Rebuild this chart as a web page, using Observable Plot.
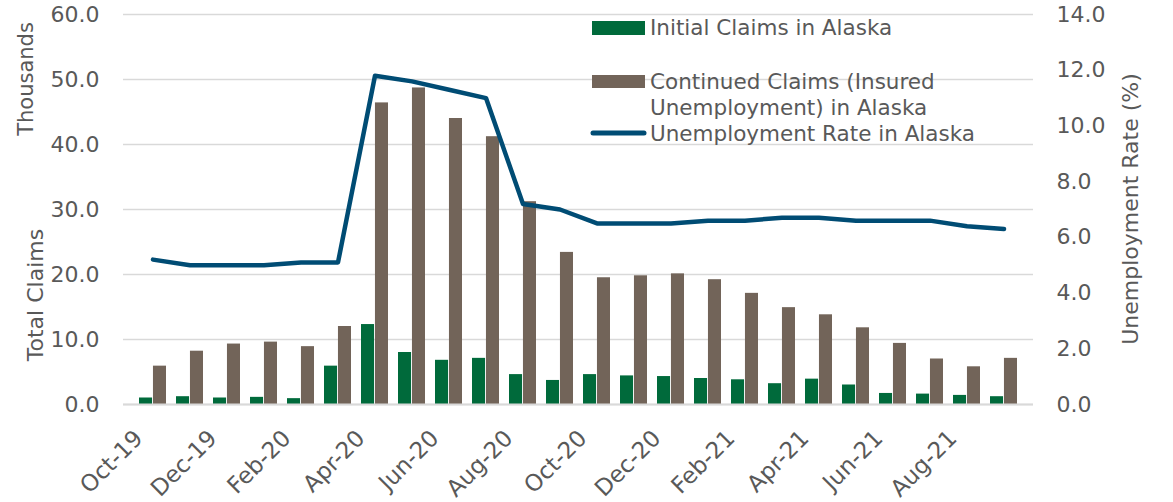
<!DOCTYPE html>
<html>
<head>
<meta charset="utf-8">
<script src="https://cdn.jsdelivr.net/npm/d3@7"></script>
<script src="https://cdn.jsdelivr.net/npm/@observablehq/plot@0.6"></script>
<style>
  html, body { margin: 0; padding: 0; background: #fff; }
  #chart svg { display: block; }
</style>
</head>
<body>
<div id="chart"></div>
<script>
const months = ["Oct-19","Nov-19","Dec-19","Jan-20","Feb-20","Mar-20","Apr-20","May-20","Jun-20","Jul-20","Aug-20","Sep-20",
                "Oct-20","Nov-20","Dec-20","Jan-21","Feb-21","Mar-21","Apr-21","May-21","Jun-21","Jul-21","Aug-21","Sep-21"];
const initialClaims   = [1.0, 1.2, 1.0, 1.1, 0.9, 5.9, 12.3, 8.0, 6.8, 7.1, 4.6, 3.7, 4.6, 4.4, 4.3, 4.0, 3.8, 3.2, 3.9, 3.0, 1.7, 1.6, 1.4, 1.2];
const continuedClaims = [5.9, 8.2, 9.3, 9.6, 8.9, 12.0, 46.4, 48.7, 44.0, 41.2, 31.2, 23.4, 19.5, 19.8, 20.1, 19.2, 17.1, 14.9, 13.8, 11.8, 9.4, 7.0, 5.8, 7.1];
const unemploymentRate = [5.2, 5.0, 5.0, 5.0, 5.1, 5.1, 11.8, 11.6, 11.3, 11.0, 7.2, 7.0, 6.5, 6.5, 6.5, 6.6, 6.6, 6.7, 6.7, 6.6, 6.6, 6.6, 6.4, 6.3];
const leftTicks = [0, 10, 20, 30, 40, 50, 60];
const rightTicks = [0, 2, 4, 6, 8, 10, 12, 14];
const xTickLabels = months.filter((d, i) => i % 2 === 0);
const seriesNames = ["Initial Claims in Alaska", "Continued Claims (Insured Unemployment) in Alaska", "Unemployment Rate in Alaska"];

const data = months.map((m, i) => ({month: m, initial: initialClaims[i], continued: continuedClaims[i], rate: unemploymentRate[i]}));

const W = 1173, H = 502;
const mL = 123, mR = 140, mT = 14, mB = 98;
const bw = (W - mL - mR) / months.length;
const gap = 5;
const barW = (bw - 2 * gap) / 2;
const leftMax = 60, rightMax = 14;
const toLeft = r => r * leftMax / rightMax;

const green = "#006a3b", brown = "#726459", blue = "#004c74", grid = "#d9d9d9", textColor = "#595959";

const chart = Plot.plot({
  width: W, height: H,
  marginTop: mT, marginBottom: mB, marginLeft: mL, marginRight: mR,
  style: {fontFamily: "'DejaVu Sans', Verdana, sans-serif", fontSize: "22px", color: textColor, background: "#fff"},
  x: {type: "band", domain: months, padding: 0},
  y: {domain: [0, leftMax]},
  marks: [
    Plot.gridY(leftTicks, {stroke: grid, strokeOpacity: 1, strokeWidth: 1.5}),
    Plot.barY(data, {x: "month", y: "initial", fill: green, insetLeft: gap, insetRight: gap + barW}),
    Plot.barY(data, {x: "month", y: "continued", fill: brown, insetLeft: gap + barW, insetRight: gap}),
    Plot.ruleY([0], {stroke: grid, strokeWidth: 2}),
    Plot.line(data, {x: "month", y: d => toLeft(d.rate), stroke: blue, strokeWidth: 4.5, strokeLinejoin: "round", strokeLinecap: "round"}),
    Plot.axisY(leftTicks, {anchor: "left", tickSize: 0, tickPadding: 24, fontSize: 22, tickFormat: d => d.toFixed(1), label: null, fill: textColor}),
    Plot.axisY(rightTicks.map(toLeft), {anchor: "right", tickSize: 0, tickPadding: 23, fontSize: 22, tickFormat: d => (d * rightMax / leftMax).toFixed(1), label: null, fill: textColor}),
    Plot.axisX(xTickLabels, {anchor: "bottom", tickSize: 0, tickPadding: 16, tickRotate: -45, fontSize: 23, dx: -14, dy: 14, label: null, fill: textColor})
  ]
});

document.getElementById("chart").appendChild(chart);

// Axis titles and legend
const svg = d3.select(chart);
const g = svg.append("g").attr("font-family", "'DejaVu Sans', Verdana, sans-serif").attr("fill", textColor);
g.append("text").attr("transform", "translate(33,79) rotate(-90)").attr("text-anchor", "middle").attr("font-size", 21).text("Thousands");
g.append("text").attr("transform", "translate(43,295) rotate(-90)").attr("text-anchor", "middle").attr("font-size", 22).text("Total Claims");
g.append("text").attr("transform", "translate(1138,209) rotate(-90)").attr("text-anchor", "middle").attr("font-size", 22).text("Unemployment Rate (%)");

const lg = g.append("g").attr("font-size", 21.5).attr("text-anchor", "start");
lg.append("rect").attr("x", 592).attr("y", 21).attr("width", 53).attr("height", 14).attr("fill", green);
lg.append("text").attr("x", 650).attr("y", 35).text(seriesNames[0]);
lg.append("rect").attr("x", 592).attr("y", 75).attr("width", 53).attr("height", 13).attr("fill", brown);
lg.append("text").attr("x", 650).attr("y", 89).text("Continued Claims (Insured");
lg.append("text").attr("x", 650).attr("y", 115).text("Unemployment) in Alaska");
lg.append("line").attr("x1", 593).attr("x2", 644).attr("y1", 133).attr("y2", 133)
  .attr("stroke", blue).attr("stroke-width", 5).attr("stroke-linecap", "round");
lg.append("text").attr("x", 650).attr("y", 141).text(seriesNames[2]);
</script>
</body>
</html>
